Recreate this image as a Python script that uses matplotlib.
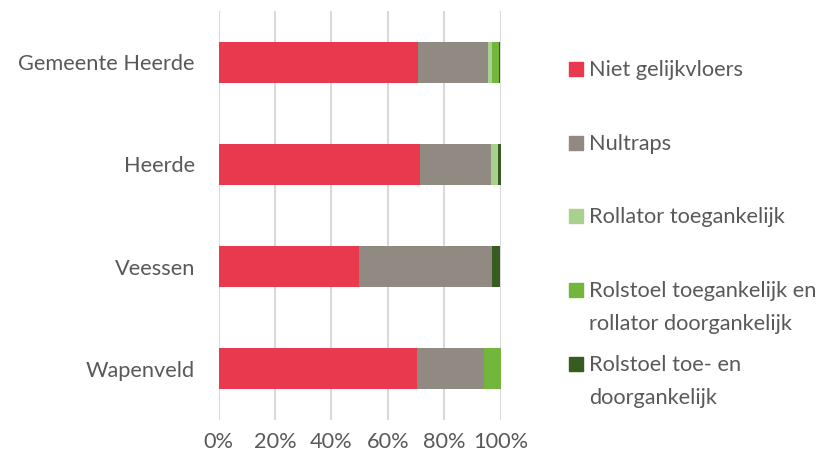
import matplotlib
matplotlib.use("Agg")
import matplotlib.pyplot as plt
from matplotlib.patches import Rectangle

categories = ["Gemeente Heerde", "Heerde", "Veessen", "Wapenveld"]
series_names = ["Niet gelijkvloers", "Nultraps", "Rollator toegankelijk",
                "Rolstoel toegankelijk en\nrollator doorgankelijk",
                "Rolstoel toe- en\ndoorgankelijk"]
niet_gelijkvloers = [70.6, 71.5, 49.8, 70.5]
nultraps = [25.1, 25.2, 47.2, 23.8]
rollator = [1.4, 2.3, 0.0, 0.0]
rolstoel_rollator = [2.3, 0.0, 0.0, 5.7]
rolstoel_toe_door = [0.6, 1.0, 3.0, 0.0]
series = [niet_gelijkvloers, nultraps, rollator, rolstoel_rollator, rolstoel_toe_door]
colors = ["#E8394F", "#918A83", "#A9D18E", "#72B73B", "#375C1F"]
xticks = [0, 20, 40, 60, 80, 100]

plt.rcParams['font.family'] = ['Lato', 'DejaVu Sans']
text_color = "#595959"
fs = 15.7

fig = plt.figure(figsize=(8.27, 4.67), dpi=100)
W, H = 827, 467
ax = fig.add_axes([218.5 / W, 1 - 420 / H, 282 / W, 409 / H])

ypos = list(range(len(categories)))
left = [0.0] * len(categories)
for vals, col in zip(series, colors):
    ax.barh(ypos, vals, left=left, height=0.4, color=col, zorder=3)
    left = [l + v for l, v in zip(left, vals)]

ax.set_xlim(0, 100)
ax.set_ylim(len(categories) - 0.5, -0.5)
ax.set_yticks(ypos)
ax.set_yticklabels(categories, fontsize=fs, color=text_color)
ax.set_xticks(xticks)
ax.set_xticklabels([f"{v}%" for v in xticks], fontsize=fs, color=text_color)
ax.tick_params(axis='both', length=0)
ax.tick_params(axis='x', pad=8.5)
ax.tick_params(axis='y', pad=17)
for s in ax.spines.values():
    s.set_visible(False)
ax.grid(axis='x', color="#D9D9D9", linewidth=1.5, zorder=0)

# Legend (manual, Excel-style: marker aligned to first line)
legend_baselines = [76, 150, 223, 297, 371]
line_gap = 33
for name, col, yb in zip(series_names, colors, legend_baselines):
    fig.patches.append(Rectangle((569 / W, 1 - yb / H), 14 / W, 14 / H,
                                 transform=fig.transFigure, color=col))
    for i, line in enumerate(name.split("\n")):
        fig.text(589 / W, 1 - (yb + i * line_gap) / H, line, fontsize=fs,
                 color=text_color, va='baseline', ha='left')

fig.savefig("out.png", dpi=100)
